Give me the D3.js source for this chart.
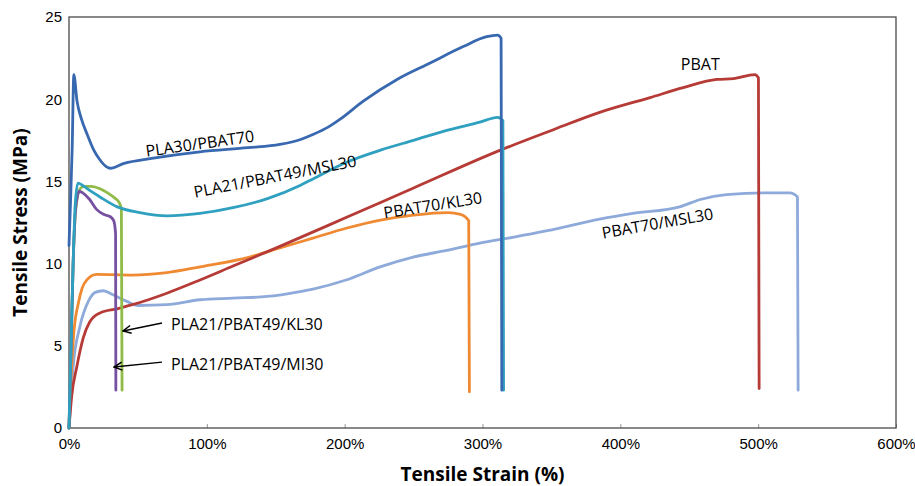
<!DOCTYPE html>
<html>
<head>
<meta charset="utf-8">
<script src="https://cdn.jsdelivr.net/npm/d3@7"></script>
<style>
  body { margin: 0; background: #fff; }
  svg { display: block; font-family: 'Open Sans', sans-serif; }
  .ejes text { fill: #000; }
</style>
</head>
<body>
<div id="graf"></div>
<script>
const anchoTotal = 915
const altoTotal = 486

const margin = {
  top: 17,
  bottom: 58,
  left: 69,
  right: 19,
}

const ancho = anchoTotal - margin.left - margin.right
const alto = altoTotal - margin.top - margin.bottom

// strain (%) , stress (MPa) pairs
const pla30Pbat70 = [
  [0, 11.1], [1, 13.5], [2.3, 17], [3.5, 21.5], [5.8, 19.9], [9, 18.8], [13, 17.9],
  [18, 16.9], [22.5, 16.3], [27, 15.9], [30, 15.8], [40, 16.1], [60, 16.4], [95, 16.8],
  [130, 17.05], [153, 17.25], [168, 17.55], [177, 17.85], [188, 18.3], [197, 18.8],
  [213, 19.85], [238, 21.2], [262, 22.2], [286, 23.2], [303, 23.8], [311, 23.9],
  [313.5, 23.7], [314, 2.3]
]
const plaPbatMsl = [
  [0, 0], [1.5, 5], [3, 10], [4.5, 13.6], [6.5, 14.9], [10, 14.75], [15, 14.45],
  [22.5, 14.05], [35, 13.45], [51.5, 13.1], [71, 12.9], [95, 13.05], [119, 13.4],
  [144, 13.95], [167.6, 14.75], [177, 15.15], [201, 16.15], [226, 16.9],
  [250, 17.5], [274, 18.1], [298, 18.6], [311, 18.9], [314.8, 18.7], [315.3, 2.3]
]
const plaPbatKl = [
  [0, 0], [1.5, 5], [3, 10], [5, 13.4], [8, 14.55], [11, 14.7], [16, 14.7], [22.5, 14.55],
  [28, 14.3], [33, 14.0], [36.5, 13.7], [38, 13.3], [38.5, 2.3]
]
const plaPbatMi = [
  [0, 0], [1.5, 5], [3, 10], [5, 13.5], [7.5, 14.4], [10, 14.3], [15, 13.9], [20, 13.3],
  [25, 13.0], [30, 12.85], [32.5, 12.6], [33.8, 11.8], [34, 2.3]
]
const pbat70Kl30 = [
  [0, 0], [1, 2.2], [1.9, 3.7], [3.5, 5.8], [6.8, 7.6], [9.5, 8.5], [12.8, 9.0],
  [20, 9.35], [46, 9.3], [71, 9.45], [95, 9.8], [131, 10.4], [153, 10.95], [177, 11.55],
  [201, 12.15], [226, 12.65], [250, 12.95], [275, 13.1], [284, 13.0], [290, 12.6],
  [290.5, 2.2]
]
const pbat = [
  [0, 0], [1.9, 1.9], [5.6, 3.7], [10.4, 5.5], [15, 6.45], [22.5, 7.0], [34.8, 7.25],
  [46, 7.5], [71, 8.2], [95, 9.0], [119, 9.85], [153, 11.05], [201, 12.8], [250, 14.6],
  [313, 16.9], [350, 18.1], [385, 19.2], [421.6, 20.1], [445.6, 20.7], [470, 21.2],
  [482, 21.25], [497.5, 21.5], [500.2, 21.3], [500.7, 2.4]
]
const pbat70Msl30 = [
  [0, 0], [1.5, 2], [3.1, 3.8], [8, 6.2], [14, 7.7], [19, 8.25], [24.7, 8.35], [32, 8.1],
  [42, 7.7], [50, 7.45], [71, 7.5], [95, 7.8], [119, 7.9], [143.7, 8.0], [167.6, 8.3],
  [177, 8.45], [201, 9.0], [225.7, 9.8], [249.7, 10.4], [274, 10.8], [298, 11.25],
  [322, 11.6], [347, 12.0], [385, 12.7], [409, 13.05], [443, 13.45], [458, 13.9],
  [477, 14.2], [506, 14.3], [523, 14.3], [528.5, 14.05], [529, 2.3]
]

const nombres = ['PBAT70/MSL30', 'PBAT70/KL30', 'PBAT', 'PLA21/PBAT49/KL30', 'PLA21/PBAT49/MI30', 'PLA21/PBAT49/MSL30', 'PLA30/PBAT70']
const curvas = [pbat70Msl30, pbat70Kl30, pbat, plaPbatKl, plaPbatMi, plaPbatMsl, pla30Pbat70]
const colores = ['#8eaadb', '#ef8a32', '#b63a36', '#90bb46', '#7751a1', '#2fa0bf', '#3868b0']

const xTicks = [0, 100, 200, 300, 400, 500, 600]
const yTicks = [0, 5, 10, 15, 20, 25]

// curve labels: text, strain, stress, angle
const etiquetas = [
  ['PLA30/PBAT70', 95, 17.3, -8],
  ['PLA21/PBAT49/MSL30', 149.5, 15.3, -11],
  ['PBAT70/KL30', 264, 13.55, -9],
  ['PBAT', 458, 22.1, 0],
  ['PBAT70/MSL30', 427, 12.45, -10],
]
const etiquetasFlecha = [
  ['PLA21/PBAT49/KL30', 74, 6.3, 67.5, 6.39, 39.2, 5.9],
  ['PLA21/PBAT49/MI30', 74, 3.86, 67.5, 4.01, 32.7, 3.71],
]

const svg = d3.select('#graf')
  .append('svg')
  .attr('width', anchoTotal)
  .attr('height', altoTotal)

const g = svg.append('g')
  .attr('transform', `translate(${margin.left}, ${margin.top})`)

const x = d3.scaleLinear().domain([0, 600]).range([0, ancho])
const y = d3.scaleLinear().domain([0, 25]).range([alto, 0])

const xAxisGroup = g.append('g')
  .attr('class', 'ejes')
  .attr('transform', `translate(0, ${alto})`)
  .call(d3.axisBottom(x)
    .tickValues(xTicks)
    .tickSizeInner(-4)
    .tickSizeOuter(0)
    .tickPadding(10)
    .tickFormat(d => `${d}%`))
xAxisGroup.select('.domain').remove()
xAxisGroup.selectAll('line').attr('stroke', '#999')
xAxisGroup.selectAll('text').attr('font-size', 15)

const yAxisGroup = g.append('g')
  .attr('class', 'ejes')
  .call(d3.axisLeft(y)
    .tickValues(yTicks)
    .tickSize(0)
    .tickPadding(7))
yAxisGroup.select('.domain').remove()
yAxisGroup.selectAll('text').attr('font-size', 15)

g.append('rect')
  .attr('width', ancho)
  .attr('height', alto)
  .attr('fill', 'none')
  .attr('stroke', '#4a4a4a')
  .attr('stroke-width', 1.3)

const linea = d3.line()
  .x(d => x(d[0]))
  .y(d => y(d[1]))
  .curve(d3.curveMonotoneX)

g.selectAll('path.curva')
  .data(curvas)
  .enter()
  .append('path')
  .attr('class', 'curva')
  .attr('d', linea)
  .attr('fill', 'none')
  .attr('stroke', (d, i) => colores[i])
  .attr('stroke-width', 2.8)
  .attr('stroke-linejoin', 'round')
  .attr('stroke-linecap', 'round')

g.selectAll('text.etiqueta')
  .data(etiquetas)
  .enter()
  .append('text')
  .attr('class', 'etiqueta')
  .attr('text-anchor', 'middle')
  .attr('dy', '0.35em')
  .attr('font-size', 16)
  .attr('transform', d => `translate(${x(d[1])}, ${y(d[2])}) rotate(${d[3]})`)
  .text(d => d[0])

svg.append('defs').append('marker')
  .attr('id', 'punta')
  .attr('viewBox', '0 0 10 10')
  .attr('refX', 9)
  .attr('refY', 5)
  .attr('markerWidth', 10)
  .attr('markerHeight', 10)
  .attr('markerUnits', 'userSpaceOnUse')
  .attr('orient', 'auto')
  .append('path')
  .attr('d', 'M1,1 L9,5 L1,9')
  .attr('fill', 'none')
  .attr('stroke', '#000')
  .attr('stroke-width', 1.5)

etiquetasFlecha.forEach(d => {
  g.append('text')
    .attr('x', x(d[1]))
    .attr('y', y(d[2]))
    .attr('dy', '0.35em')
    .attr('font-size', 16)
    .text(d[0])
  g.append('line')
    .attr('x1', x(d[3]))
    .attr('y1', y(d[4]))
    .attr('x2', x(d[5]))
    .attr('y2', y(d[6]))
    .attr('stroke', '#000')
    .attr('stroke-width', 1.4)
    .attr('marker-end', 'url(#punta)')
})

svg.append('text')
  .attr('x', margin.left + ancho / 2)
  .attr('y', 481)
  .attr('text-anchor', 'middle')
  .attr('font-size', 19)
  .attr('font-weight', 'bold')
  .text('Tensile Strain (%)')

svg.append('text')
  .attr('transform', `translate(27, ${margin.top + alto / 2}) rotate(-90)`)
  .attr('text-anchor', 'middle')
  .attr('font-size', 19)
  .attr('font-weight', 'bold')
  .text('Tensile Stress (MPa)')
</script>
</body>
</html>
